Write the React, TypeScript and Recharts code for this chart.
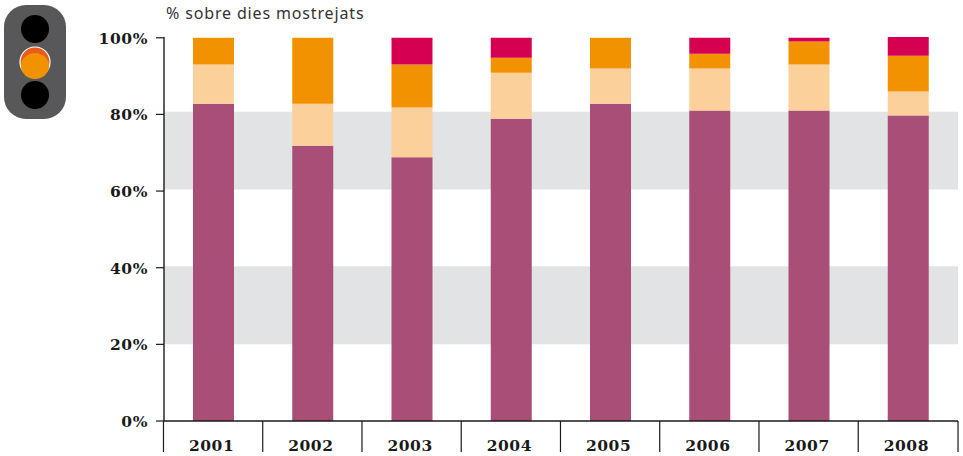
import React from 'react';
import { BarChart, Bar, XAxis, YAxis, ReferenceArea } from 'recharts';

// Percentatge de dies per any
const years = ['2001', '2002', '2003', '2004', '2005', '2006', '2007', '2008'];
const bona = [82.8, 71.8, 68.8, 78.9, 82.8, 81, 81, 79.7];
const acceptable = [10.2, 11, 13, 12, 9.2, 11, 12, 6.3];
const dolenta = [7, 17.2, 11.2, 3.9, 8, 3.8, 6, 9.3];
const moltDolenta = [0, 0, 7, 5.2, 0, 4.2, 1, 4.9];
const yTicks = [0, 20, 40, 60, 80, 100];
const bands = [[20, 40.4], [60.4, 80.7]];

const data = years.map((year, i) => ({
  year,
  bona: bona[i],
  acceptable: acceptable[i],
  dolenta: dolenta[i],
  moltDolenta: moltDolenta[i],
}));

const tickFont = '"DejaVu Serif", serif';
const inkColor = '#1a1a1a';

const YearTick = (props: any) => {
  const { x, y, payload, index } = props;
  const half = 99.3 / 2;
  const top = y - 8;
  return (
    <g>
      <line x1={x - half - 0.5} x2={x - half - 0.5} y1={top} y2={top + 31} stroke={inkColor} strokeWidth={1.2} />
      {index === years.length - 1 && (
        <line x1={x + half} x2={x + half} y1={top} y2={top + 31} stroke={inkColor} strokeWidth={1.2} />
      )}
      <text x={x - 2} y={top + 30} textAnchor="middle" fontFamily={tickFont} fontWeight={700} fontSize={15.5} letterSpacing={0.5} fill={inkColor}>
        {payload.value}
      </text>
    </g>
  );
};

const YPercentTick = (props: any) => {
  const { x, y, payload } = props;
  return (
    <text x={x - 1} y={y + 6} textAnchor="end" fontFamily={tickFont} fontWeight={700} fontSize={15.5} letterSpacing={0.6} fill={inkColor}>
      {`${payload.value}%`}
    </text>
  );
};

const TrafficLight = () => (
  <svg width={70} height={122} style={{ position: 'absolute', left: 0, top: 0 }}>
    <rect x={4} y={5} width={62} height={114} rx={22} fill="#58585a" />
    <circle cx={35} cy={29} r={14} fill="#000" />
    <circle cx={35} cy={95} r={14} fill="#000" />
    <circle cx={35} cy={62} r={15} fill="#ea5b1c" stroke="#fff" strokeWidth={1.2} />
    <ellipse cx={35} cy={66} rx={14} ry={13} fill="#f39200" />
  </svg>
);

export default function App() {
  return (
    <div style={{ position: 'absolute', left: 0, top: 0, width: 963, height: 456, background: '#fff' }}>
      <TrafficLight />
      <div style={{ position: 'absolute', left: 166, top: 2, fontFamily: '"Noto Sans", sans-serif', fontSize: 16, color: '#333', letterSpacing: 0.85 }}>
        % sobre dies mostrejats
      </div>
      <BarChart width={963} height={456} data={data} margin={{ top: 37, right: 5, bottom: 0, left: 0 }} barCategoryGap={29}>
        {bands.map(([y1, y2]) => (
          <ReferenceArea key={y1} y1={y1} y2={y2} fill="#e2e3e5" fillOpacity={1} stroke="none" ifOverflow="visible" />
        ))}
        <XAxis
          dataKey="year"
          height={35}
          interval={0}
          tickLine={false}
          tick={<YearTick />}
          axisLine={{ stroke: inkColor, strokeWidth: 1.4 }}
        />
        <YAxis
          width={164}
          domain={[0, 100]}
          ticks={yTicks}
          tickSize={8}
          tickMargin={7}
          tickLine={{ stroke: inkColor, strokeWidth: 1.2 }}
          axisLine={{ stroke: inkColor, strokeWidth: 1.4 }}
          tick={<YPercentTick />}
        />
        <Bar dataKey="bona" stackId="a" fill="#a94e77" isAnimationActive={false} />
        <Bar dataKey="acceptable" stackId="a" fill="#fcd09b" isAnimationActive={false} />
        <Bar dataKey="dolenta" stackId="a" fill="#f39200" isAnimationActive={false} />
        <Bar dataKey="moltDolenta" stackId="a" fill="#d60050" isAnimationActive={false} />
      </BarChart>
    </div>
  );
}
